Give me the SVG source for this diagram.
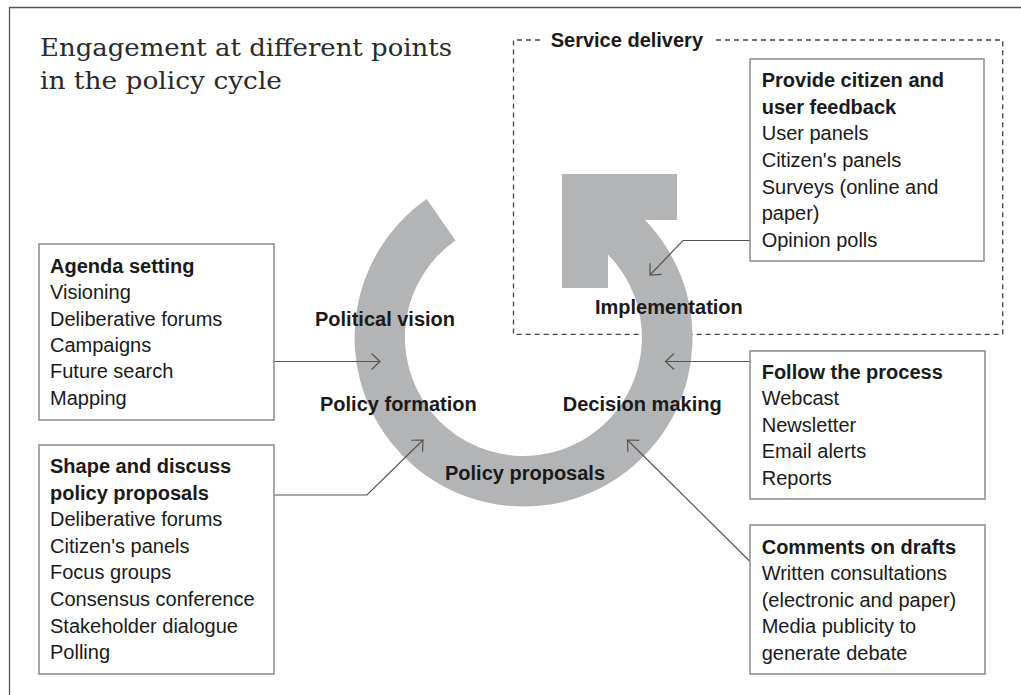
<svg xmlns="http://www.w3.org/2000/svg" width="1021" height="695" viewBox="0 0 1021 695">
<defs>
<style>
.frame{stroke:#555;stroke-width:1.3;fill:none}
.box{fill:#fff;stroke:#8a8a8a;stroke-width:1.5}
.dash{fill:none;stroke:#444;stroke-width:1.3;stroke-dasharray:5 4}
.ring{fill:#b3b4b6}
.conn{fill:none;stroke:#555;stroke-width:1.2}
text{font-family:"Liberation Sans",Arial,Helvetica,sans-serif;font-size:20px;fill:#1a1a1a}
.b{font-weight:bold}
.title{font-family:"DejaVu Serif","Liberation Serif",serif;font-size:24px;fill:#2a2a2a}
</style>
<marker id="arr" markerUnits="userSpaceOnUse" markerWidth="24" markerHeight="24" refX="0" refY="0" viewBox="-12 -12 24 24" orient="auto" overflow="visible">
<path d="M -8.5 -8 L 0 0 L -8.5 8" fill="none" stroke="#555" stroke-width="1.2"/>
</marker>
</defs>
<rect width="1021" height="695" fill="#fff"/>
<path class="frame" d="M 9.5 695 L 9.5 7.5 L 1021 7.5"/>
<g id="title">
<text class="title" x="40" y="56" textLength="412" lengthAdjust="spacingAndGlyphs">Engagement at different points</text>
<text class="title" x="40" y="89" textLength="242" lengthAdjust="spacingAndGlyphs">in the policy cycle</text>
</g>
<g id="service-delivery">
<path class="dash" d="M 540 40 L 513.5 40 L 513.5 334.3 L 1002.7 334.3 L 1002.7 40 L 715 40"/>
<text class="b" x="550.7" y="47">Service delivery</text>
</g>
<g id="cycle">
<path class="ring" d="M 426.6 199.1 A 169 169 0 1 0 645 220 L 677 220 L 677 174 L 562 174 L 562 288 L 608 288 L 608 254.5 A 118.5 118.5 0 1 1 455.5 240.4 Z"/>
</g>
<g id="stage-labels">
<text class="b" x="315" y="326">Political vision</text>
<text class="b" x="320" y="410.5">Policy formation</text>
<text class="b" x="562.7" y="410.5">Decision making</text>
<text class="b" x="445" y="480">Policy proposals</text>
<text class="b" x="595" y="313.5">Implementation</text>
</g>
<g id="connectors">
<path class="conn" d="M 274 361.5 L 380 361.5" marker-end="url(#arr)"/>
<path class="conn" d="M 274 495 L 367 495 L 423 440" marker-end="url(#arr)"/>
<path class="conn" d="M 750 361.5 L 665.5 361.5" marker-end="url(#arr)"/>
<path class="conn" d="M 750 561.5 L 627.5 440" marker-end="url(#arr)"/>
<path class="conn" d="M 750 240.5 L 683 240.5 L 650 275" marker-end="url(#arr)"/>
</g>
<g id="agenda-setting">
<rect class="box" x="39" y="244" width="235" height="176"/>
<text class="b" x="50" y="273">Agenda setting</text>
<text x="50" y="299.3">Visioning</text>
<text x="50" y="325.6">Deliberative forums</text>
<text x="50" y="351.9">Campaigns</text>
<text x="50" y="378.2">Future search</text>
<text x="50" y="404.5">Mapping</text>
</g>
<g id="shape-discuss">
<rect class="box" x="39" y="445" width="235" height="229"/>
<text class="b" x="50" y="473">Shape and discuss</text>
<text class="b" x="50" y="499.6">policy proposals</text>
<text x="50" y="526.2">Deliberative forums</text>
<text x="50" y="552.8">Citizen's panels</text>
<text x="50" y="579.4">Focus groups</text>
<text x="50" y="606">Consensus conference</text>
<text x="50" y="632.6">Stakeholder dialogue</text>
<text x="50" y="659.2">Polling</text>
</g>
<g id="citizen-feedback">
<rect class="box" x="750" y="59" width="234" height="202"/>
<text class="b" x="761.7" y="87">Provide citizen and</text>
<text class="b" x="761.7" y="113.7">user feedback</text>
<text x="761.7" y="140.3">User panels</text>
<text x="761.7" y="167">Citizen's panels</text>
<text x="761.7" y="193.7">Surveys (online and</text>
<text x="761.7" y="220.3">paper)</text>
<text x="761.7" y="247">Opinion polls</text>
</g>
<g id="follow-process">
<rect class="box" x="750" y="351" width="235" height="148"/>
<text class="b" x="761.7" y="378.5">Follow the process</text>
<text x="761.7" y="405">Webcast</text>
<text x="761.7" y="431.5">Newsletter</text>
<text x="761.7" y="458">Email alerts</text>
<text x="761.7" y="484.5">Reports</text>
</g>
<g id="comments-drafts">
<rect class="box" x="750" y="525" width="235" height="149"/>
<text class="b" x="761.7" y="553.5">Comments on drafts</text>
<text x="761.7" y="580">Written consultations</text>
<text x="761.7" y="606.5">(electronic and paper)</text>
<text x="761.7" y="633">Media publicity to</text>
<text x="761.7" y="659.5">generate debate</text>
</g>
</svg>
